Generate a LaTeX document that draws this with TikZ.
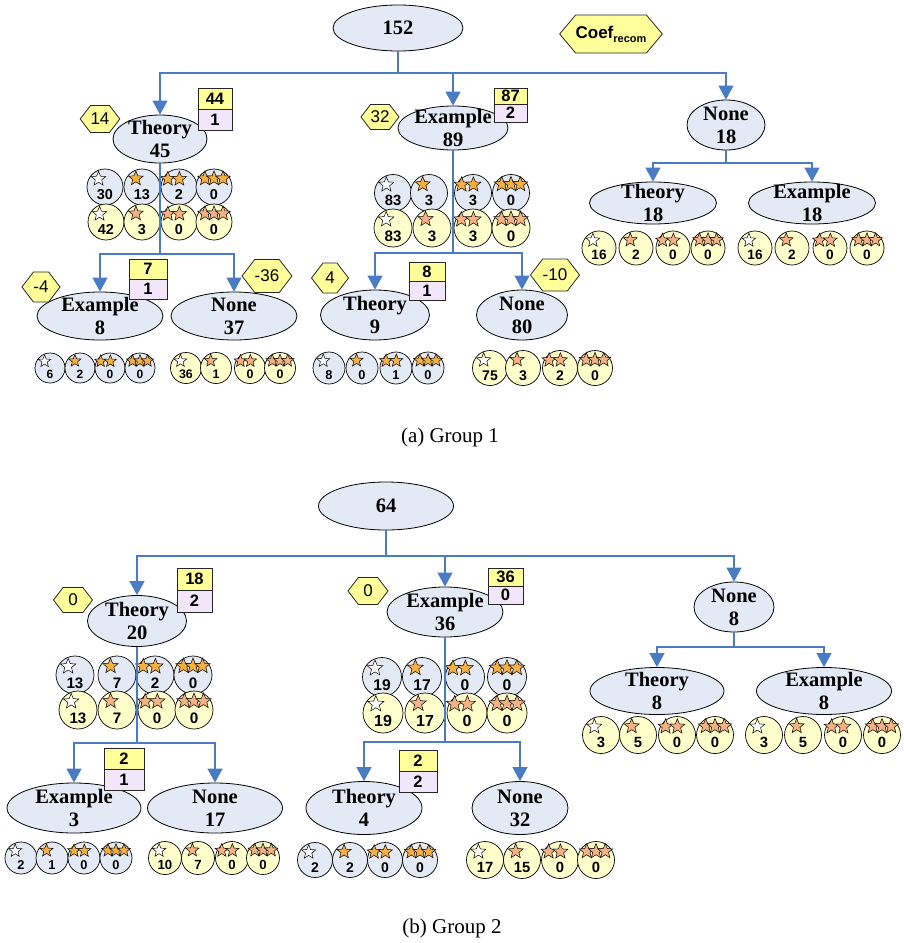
\documentclass[tikz,border=0pt]{standalone}
\usepackage{fontspec}
\setmainfont{Liberation Serif}
\setsansfont{Liberation Sans}
\usetikzlibrary{arrows.meta,shapes.geometric,shapes.symbols}
\definecolor{elfill}{HTML}{E4EAF5}
\definecolor{ylfill}{HTML}{FFFFCC}
\definecolor{hexfill}{HTML}{FFFF99}
\definecolor{boxtop}{HTML}{FFFF99}
\definecolor{boxbot}{HTML}{F1E6FA}
\definecolor{edgec}{HTML}{4A7CC4}
\definecolor{starb}{HTML}{F5B041}
\definecolor{stary}{HTML}{F4B183}
\tikzset{
  ell/.style={ellipse, draw=black, line width=0.8pt, fill=elfill, inner sep=0pt},
  elltxt/.style={inner sep=0pt, align=center, font=\bfseries\fontsize{20.5}{23}\selectfont},
  hexa/.style={signal, signal to=east and west, signal pointer angle=105, draw=black!85, line width=0.8pt, fill=hexfill, inner sep=0pt, font=\sffamily\fontsize{17}{17}\selectfont},
  btop/.style={rectangle, draw=black!85, line width=0.8pt, fill=boxtop, inner sep=0pt, font=\sffamily\bfseries\fontsize{16.5}{16.5}\selectfont},
  bbot/.style={btop, fill=boxbot},
  circ/.style={circle, draw=black, line width=0.7pt, inner sep=0pt},
  cb/.style={fill=elfill},
  cy/.style={fill=ylfill},
  stari/.style={star, star points=5, star point ratio=2.3, draw=black, line width=0.5pt, inner sep=0pt},
  sb/.style={fill=starb},
  sy/.style={fill=stary},
  cnum/.style={inner sep=0pt},
  arr/.style={draw=edgec, line width=1.1pt, -{Triangle[width=15pt,length=14pt]}},
  captxt/.style={font=\fontsize{21}{21}\selectfont}
}
% name, x, y, w, h, text
\newcommand\ellnode[6]{%
  \node[ell, minimum width=#4pt, minimum height=#5pt] (#1) at (#2,#3) {};
  \node[elltxt] (#1-t) at (#1.center) {#6};}
% name, xl, xr, ytop, ymid, ybot, top, bottom
\newcommand\boxpair[8]{%
  \node[btop, minimum width={#3pt-#2pt}, minimum height={#5pt-#4pt}] (#1-a) at ({(#2+#3)/2},{(#4+#5)/2}) {#7};
  \node[bbot, minimum width={#3pt-#2pt}, minimum height={#6pt-#5pt}] (#1-b) at ({(#2+#3)/2},{(#5+#6)/2}) {#8};}
% name, x, y, r, kind, nstars, number
\newcommand\cir[7]{%
  \pgfmathsetmacro\cfs{0.8*#4}%
  \pgfmathsetmacro\csz{0.85*#4}%
  \node[circ, c#5, minimum size={2*#4pt}] (#1) at (#2,#3) {};
  \ifcase#6\or
    \node[stari, fill=white, minimum size=\csz pt] at ({#2-0.36*#4},{#3-0.45*#4}) {};
  \or
    \node[stari, s#5, minimum size=\csz pt] at ({#2-0.34*#4},{#3-0.47*#4}) {};
  \or
    \node[stari, s#5, minimum size=\csz pt] at ({#2-0.62*#4},{#3-0.45*#4}) {};
    \node[stari, s#5, minimum size=\csz pt] at ({#2+0.02*#4},{#3-0.45*#4}) {};
  \or
    \node[stari, s#5, minimum size=\csz pt] at ({#2-0.5*#4},{#3-0.47*#4}) {};
    \node[stari, s#5, minimum size=\csz pt] at ({#2},{#3-0.47*#4}) {};
    \node[stari, s#5, minimum size=\csz pt] at ({#2+0.5*#4},{#3-0.47*#4}) {};
  \fi
  \node[cnum, font=\sffamily\bfseries\fontsize{\cfs}{\cfs}\selectfont] (#1-n) at ({#2},{#3+0.42*#4}) {#7};}
% prefix, y, r, kind, list x/n
\newcommand\crow[5]{\foreach \cx/\cn [count=\ci] in {#5}{\cir{#1\ci}{\cx}{#2}{#3}{#4}{\ci}{\cn}}}
% parent, child, bus coordinate
\newcommand\tedge[3]{\draw[arr] (#1.south) -- (#1.south |- #3) -| (#2.north);}

\begin{document}
\begin{tikzpicture}[x=1pt,y=-1pt]
\fill[white] (0,0) rectangle (903,943);
\useasboundingbox (0,0) rectangle (903,943);

% ================= Group 1 =================
\ellnode{r1}{398}{28}{130}{46}{152}
\node[hexa, minimum width=100pt, minimum height=38pt, signal pointer angle=100] (coef) at (611,34)
  {\bfseries\fontsize{17}{17}\selectfont Coef\raisebox{-4pt}{\fontsize{11}{11}\selectfont recom}};

\ellnode{t45}{160}{139}{94}{48}{Theory\\45}
\ellnode{e89}{453}{128}{110}{44}{Example\\89}
\ellnode{n18}{726}{125}{78}{50}{None\\18}
\ellnode{t18}{653}{203}{127}{42}{Theory\\18}
\ellnode{e18}{812}{203}{127}{42}{Example\\18}
\ellnode{e8}{100}{316}{126}{48}{Example\\8}
\ellnode{n37}{234}{316}{126}{48}{None\\37}
\ellnode{t9}{375}{315}{109}{50}{Theory\\9}
\ellnode{n80}{522}{315}{91}{50}{None\\80}

\node[hexa, minimum width=37pt, minimum height=27pt] (h14) at (100,119) {14};
\node[hexa, minimum width=38pt, minimum height=25pt] (h32) at (380,117) {32};
\node[hexa, minimum width=38pt, minimum height=30pt] (hm4) at (41,287) {-4};
\node[hexa, minimum width=42pt, minimum height=33pt] (hm36) at (267,276) {-36};
\node[hexa, minimum width=37pt, minimum height=30pt] (h4) at (330,278) {4};
\node[hexa, minimum width=44pt, minimum height=32pt] (hm10) at (555,275) {-10};

\boxpair{b44}{198}{232}{88}{109}{130}{44}{1}
\boxpair{b87}{494}{527}{88}{104}{122}{87}{2}
\boxpair{b7}{129}{167}{259}{279}{299}{7}{1}
\boxpair{b8}{409}{445}{262}{281}{300}{8}{1}

\crow{t45b}{187}{18}{b}{105/30,142/13,179/2,214/0}
\crow{t45y}{222}{18}{y}{106/42,142/3,179/0,214/0}
\crow{e89b}{193}{18.5}{b}{393/83,429/3,473/3,511/0}
\crow{e89y}{228}{19}{y}{393/83,432/3,473/3,511/0}
\crow{t18y}{248}{17}{y}{599/16,636/2,673/0,708/0}
\crow{e18y}{248}{17}{y}{755/16,792/2,830/0,867/0}
\crow{e8b}{368}{15}{b}{50/6,80/2,110/0,140/0}
\crow{n37y}{368}{15.5}{y}{186/36,216/1,250/0,280/0}
\crow{t9b}{368}{16}{b}{329/8,362/0,396/1,428/0}
\crow{n80y}{368}{17.5}{y}{490/75,523/3,560/2,595/0}

\coordinate (bus1) at (0,73);
\coordinate (busT45) at (0,254);
\coordinate (busE89) at (0,253);
\coordinate (busN18) at (0,163);
\tedge{r1}{t45}{bus1}
\tedge{r1}{e89}{bus1}
\tedge{r1}{n18}{bus1}
\tedge{n18}{t18}{busN18}
\tedge{n18}{e18}{busN18}
\tedge{t45}{e8}{busT45}
\tedge{t45}{n37}{busT45}
\tedge{e89}{t9}{busE89}
\tedge{e89}{n80}{busE89}

\node[captxt] (capa) at (450,437) {(a) Group 1};

% ================= Group 2 =================
\ellnode{r2}{386}{506}{135}{48}{64}
\ellnode{t20}{137}{621}{99}{51}{Theory\\20}
\ellnode{e36}{445}{612}{116}{50}{Example\\36}
\ellnode{n8}{734}{607}{80}{50}{None\\8}
\ellnode{t8}{657}{691}{134}{47}{Theory\\8}
\ellnode{ex8}{824}{691}{135}{47}{Example\\8}
\ellnode{e3}{74}{808}{134}{50}{Example\\3}
\ellnode{n17}{215}{808}{135}{50}{None\\17}
\ellnode{t4}{364}{808}{116}{53}{Theory\\4}
\ellnode{n32}{520}{808}{96}{53}{None\\32}

\node[hexa, minimum width=39pt, minimum height=25pt] (h0a) at (73,600) {0};
\node[hexa, minimum width=40pt, minimum height=27pt] (h0b) at (368,591) {0};

\boxpair{b18}{177}{212}{568}{590}{612}{18}{2}
\boxpair{b36}{488}{523}{568}{586}{604}{36}{0}
\boxpair{b2a}{104}{144}{748}{769}{790}{2}{1}
\boxpair{b2b}{399}{437}{750}{771}{792}{2}{2}

\crow{t20b}{675}{19}{b}{75/13,117/7,155/2,193/0}
\crow{t20y}{710}{19}{y}{78/13,117/7,157/0,194/0}
\crow{e36b}{677}{19.5}{b}{382/19,422/17,465/0,507/0}
\crow{e36y}{713}{20}{y}{383/19,425/17,467/0,507/0}
\crow{t8y}{735}{18.5}{y}{601/3,638/5,677/0,715/0}
\crow{ex8y}{735}{18.5}{y}{764/3,803/5,843/0,882/0}
\crow{e3b}{858}{16}{b}{21/2,52/1,84/0,116/0}
\crow{n17y}{858}{16.5}{y}{165/10,198/7,232/0,263/0}
\crow{t4b}{860}{17.5}{b}{315/2,350/2,385/0,420/0}
\crow{n32y}{860}{18.5}{y}{485/17,522/15,560/0,596/0}

\coordinate (bus2) at (0,556);
\coordinate (busT20) at (0,743);
\coordinate (busE36) at (0,742);
\coordinate (busN8) at (0,647);
\tedge{r2}{t20}{bus2}
\tedge{r2}{e36}{bus2}
\tedge{r2}{n8}{bus2}
\tedge{n8}{t8}{busN8}
\tedge{n8}{ex8}{busN8}
\tedge{t20}{e3}{busT20}
\tedge{t20}{n17}{busT20}
\tedge{e36}{t4}{busE36}
\tedge{e36}{n32}{busE36}

\node[captxt] (capb) at (452,928) {(b) Group 2};
\end{tikzpicture}
\end{document}
